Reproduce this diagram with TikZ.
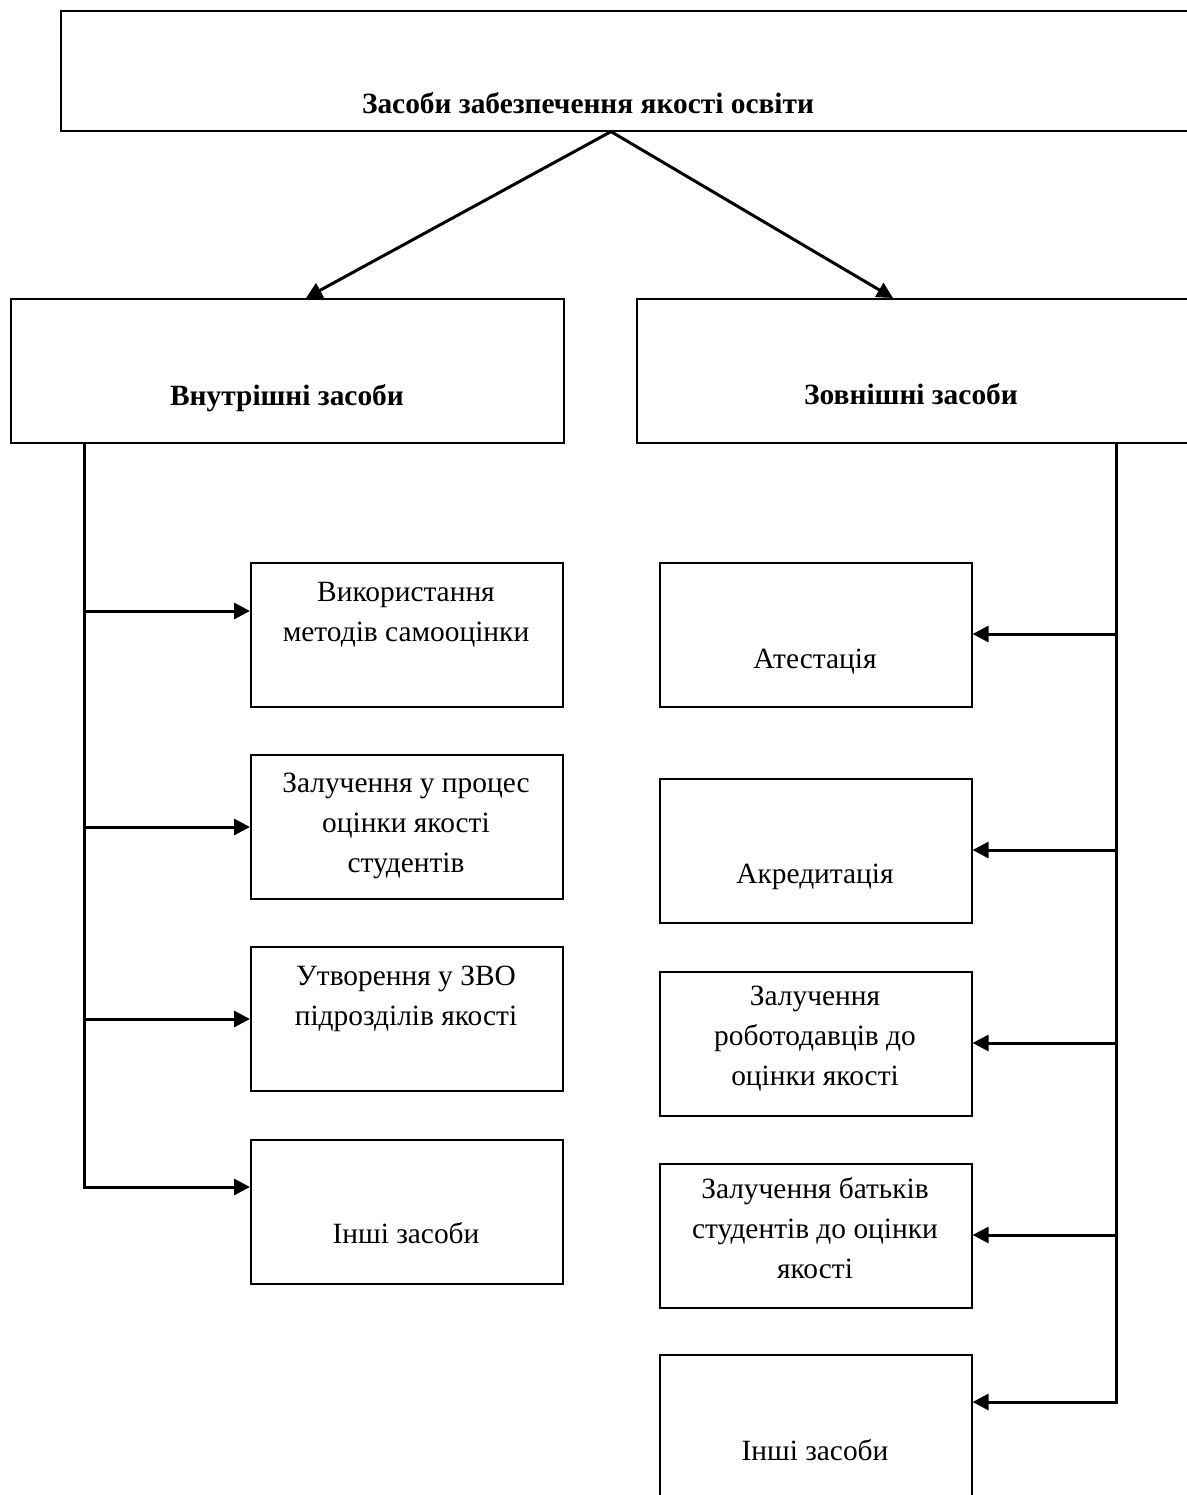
\documentclass[tikz,border=0pt]{standalone}
\usepackage{fontspec}
\setmainfont{Liberation Serif}
\usetikzlibrary{arrows.meta,calc}
\begin{document}
\begin{tikzpicture}[x=1pt,y=-1pt,
  box/.style={draw,line width=1.6pt,inner sep=0pt,anchor=north west,minimum width=312pt,minimum height=144pt},
  txt/.style={align=center,anchor=base,font=\fontsize{29.4}{40}\selectfont},
  head/.style={txt,font=\fontsize{29.4}{40}\selectfont\bfseries},
  conn/.style={line width=3pt,-{Triangle[length=16pt,width=16pt]}}]
\useasboundingbox (0,0) rectangle (1186,1495);
% top level
\node[box,minimum width=1150pt,minimum height=120pt] (top) at (60,10) {};
\node[head] (topt) at (588,114) {Засоби забезпечення якості освіти};
\node[box,minimum width=553pt] (int) at (10,298) {};
\node[head] (intt) at (287,405) {Внутрішні засоби};
\node[box,minimum width=560pt] (ext) at (636,298) {};
\node[head] (extt) at (911,404) {Зовнішні засоби};
\coordinate (apex) at ($(top.south west)+(551,0)$);
\draw[conn] (apex) -- ($(int.north west)+(296,0)$);
\draw[conn] (apex) -- ($(ext.north west)+(257,0)$);
% internal means (text placed at the baseline of its last line)
\node[box] (l1) at (250,562) {};\node[txt] (l1t) at (406,641) {Використання\\методів самооцінки};
\node[box] (l2) at (250,754) {};\node[txt] (l2t) at (406,872) {Залучення у процес\\оцінки якості\\студентів};
\node[box] (l3) at (250,946) {};\node[txt] (l3t) at (406,1025) {Утворення у ЗВО\\підрозділів якості};
\node[box] (l4) at (250,1139) {};\node[txt] (l4t) at (406,1243) {Інші засоби};
\coordinate (tl) at ($(int.south west)+(74,0)$);
\coordinate (l1a) at ($(l1.north west)+(0,49)$);
\coordinate (l2a) at ($(l2.north west)+(0,73)$);
\coordinate (l3a) at ($(l3.north west)+(0,73)$);
\coordinate (l4a) at ($(l4.north west)+(0,48)$);
\draw[conn] (tl) |- (l4a);
\draw[conn] (tl |- l1a) -- (l1a);
\draw[conn] (tl |- l2a) -- (l2a);
\draw[conn] (tl |- l3a) -- (l3a);
% external means
\node[box] (r1) at (659,562) {};\node[txt] (r1t) at (815,668) {Атестація};
\node[box] (r2) at (659,778) {};\node[txt] (r2t) at (815,883) {Акредитація};
\node[box] (r3) at (659,971) {};\node[txt] (r3t) at (815,1085) {Залучення\\роботодавців до\\оцінки якості};
\node[box] (r4) at (659,1163) {};\node[txt] (r4t) at (815,1278) {Залучення батьків\\студентів до оцінки\\якості};
\node[box] (r5) at (659,1354) {};\node[txt] (r5t) at (815,1460) {Інші засоби};
\coordinate (tr) at ($(ext.south west)+(480,0)$);
\coordinate (r1a) at ($(r1.north east)+(0,72)$);
\coordinate (r2a) at ($(r2.north east)+(0,72)$);
\coordinate (r3a) at ($(r3.north east)+(0,72)$);
\coordinate (r4a) at ($(r4.north east)+(0,72)$);
\coordinate (r5a) at ($(r5.north east)+(0,48)$);
\draw[conn] (tr) |- (r5a);
\draw[conn] (tr |- r1a) -- (r1a);
\draw[conn] (tr |- r2a) -- (r2a);
\draw[conn] (tr |- r3a) -- (r3a);
\draw[conn] (tr |- r4a) -- (r4a);
\end{tikzpicture}
\end{document}
